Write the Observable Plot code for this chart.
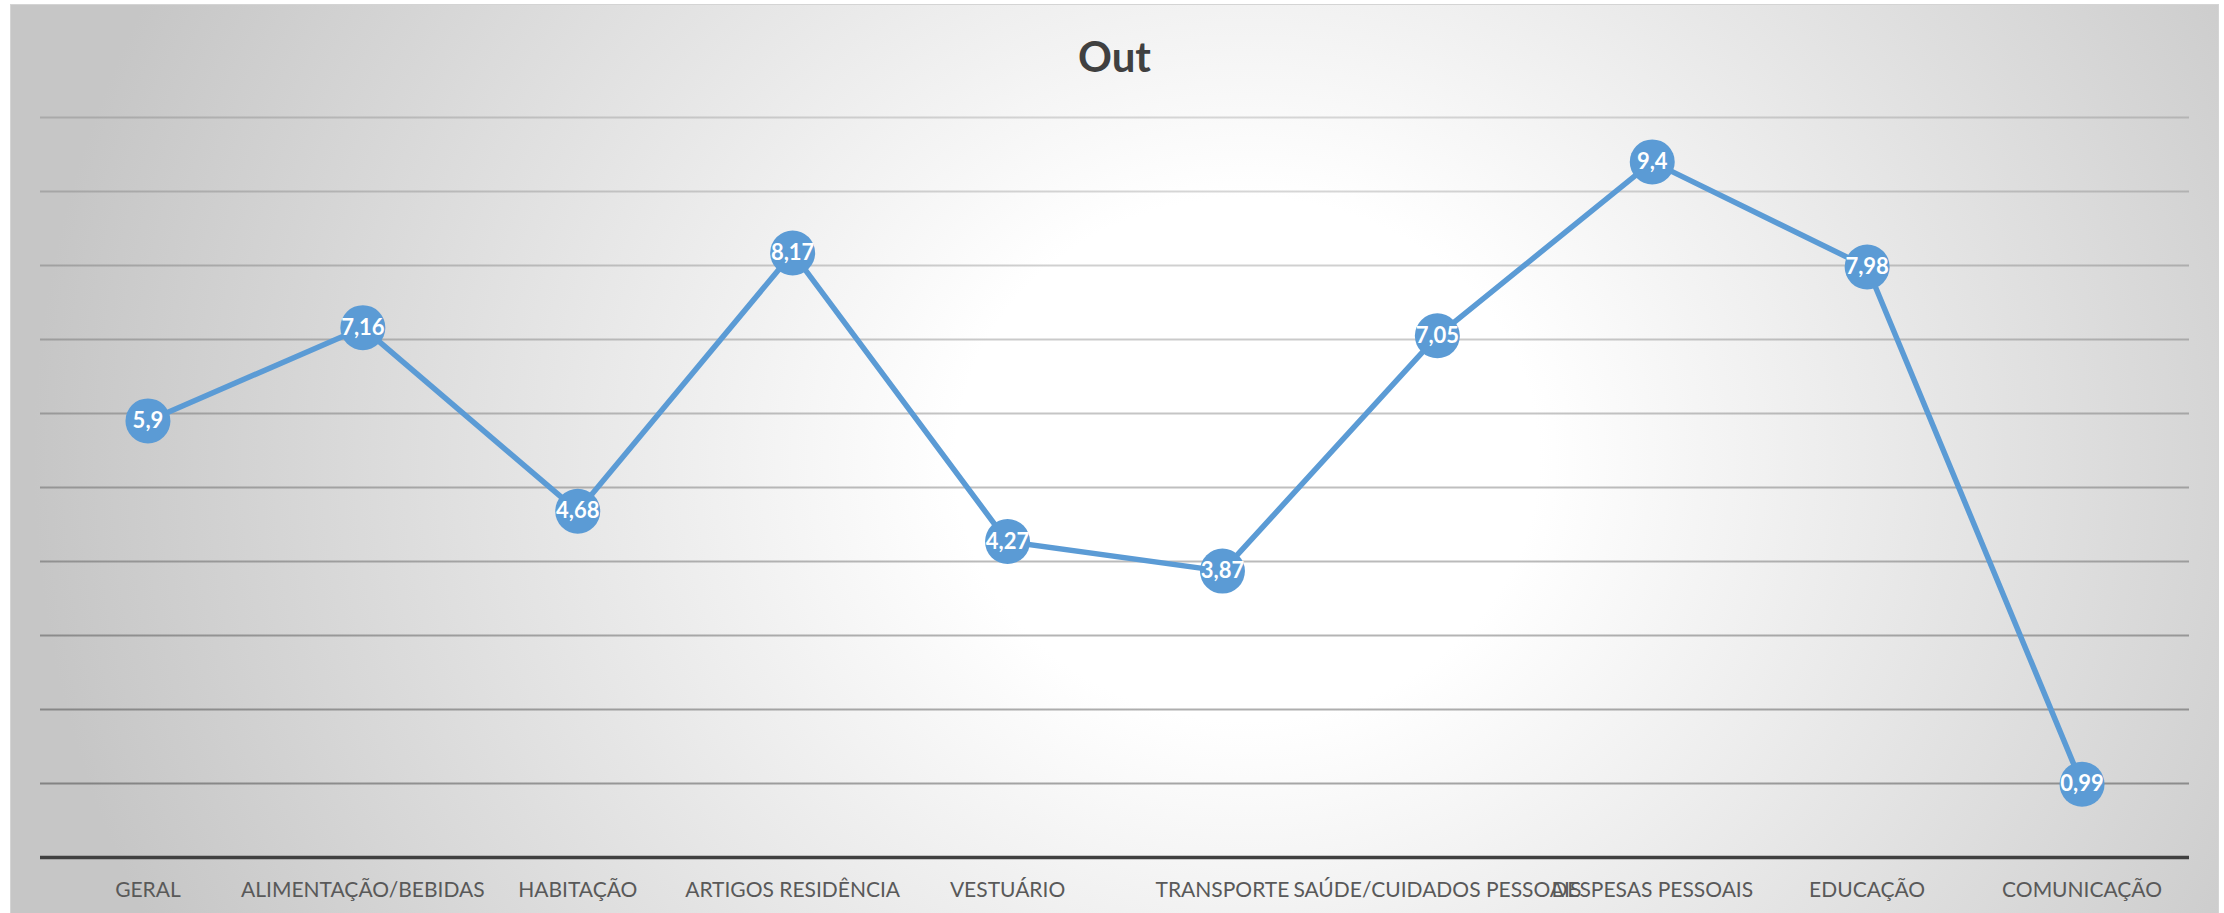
<!DOCTYPE html>
<html>
<head>
<meta charset="utf-8">
<script src="https://cdn.jsdelivr.net/npm/d3@7"></script>
<script src="https://cdn.jsdelivr.net/npm/@observablehq/plot@0.6"></script>
<style>
  html, body { margin: 0; padding: 0; background: #ffffff; width: 2224px; height: 913px; overflow: hidden; }
  #chart {
    position: absolute; left: 10px; top: 4px; width: 2209px; height: 909px;
    box-sizing: border-box;
    border: 1px solid #d4d4d4; border-bottom: none;
    background: radial-gradient(ellipse 55% 120% at 56% 50%, #ffffff 0%, #ffffff 24%, #c6c6c6 100%);
    font-family: Lato, "Open Sans", sans-serif;
  }
  #title {
    height: 89px; box-sizing: border-box; padding-top: 30px;
    text-align: center; font-size: 42px; line-height: 1; font-weight: bold; color: #404040;
  }
  #chart svg { display: block; background: transparent; }
</style>
</head>
<body>
<div id="chart">
  <div id="title">Out</div>
</div>
<script>
const categories = ["GERAL", "ALIMENTAÇÃO/BEBIDAS", "HABITAÇÃO", "ARTIGOS RESIDÊNCIA", "VESTUÁRIO", "TRANSPORTE", "SAÚDE/CUIDADOS PESSOAIS", "DESPESAS PESSOAIS", "EDUCAÇÃO", "COMUNICAÇÃO"];
const values = [5.9, 7.16, 4.68, 8.17, 4.27, 3.87, 7.05, 9.4, 7.98, 0.99];
const gridValues = [1, 2, 3, 4, 5, 6, 7, 8, 9, 10];

const data = categories.map((c, i) => ({cat: c, value: values[i], label: String(values[i]).replace(".", ",")}));

const plot = Plot.plot({
  width: 2207,
  height: 819,
  marginLeft: 29,
  marginRight: 29,
  marginTop: 23,
  marginBottom: 56,
  style: {background: "transparent", fontFamily: "Lato, 'Open Sans', sans-serif", overflow: "visible"},
  x: {type: "point", domain: categories, padding: 0.5, round: false, label: null},
  y: {domain: [0, 10], axis: null},
  marks: [
    Plot.ruleY(gridValues, {stroke: "#000", strokeOpacity: d => 0.36 - 0.022 * d, strokeWidth: 2}),
    Plot.ruleY([0], {stroke: "#404040", strokeWidth: 3.5}),
    Plot.axisX({tickSize: 0, tickPadding: 25, fontSize: 21, fill: "#595959", label: null}),
    Plot.line(data, {x: "cat", y: "value", stroke: "#5B9BD5", strokeWidth: 5.5}),
    Plot.dot(data, {x: "cat", y: "value", r: 22.5, fill: "#5B9BD5", stroke: "none"}),
    Plot.text(data, {x: "cat", y: "value", text: "label", fill: "white", fontSize: 22, fontWeight: "bold"})
  ]
});
document.getElementById("chart").appendChild(plot);
</script>
</body>
</html>
